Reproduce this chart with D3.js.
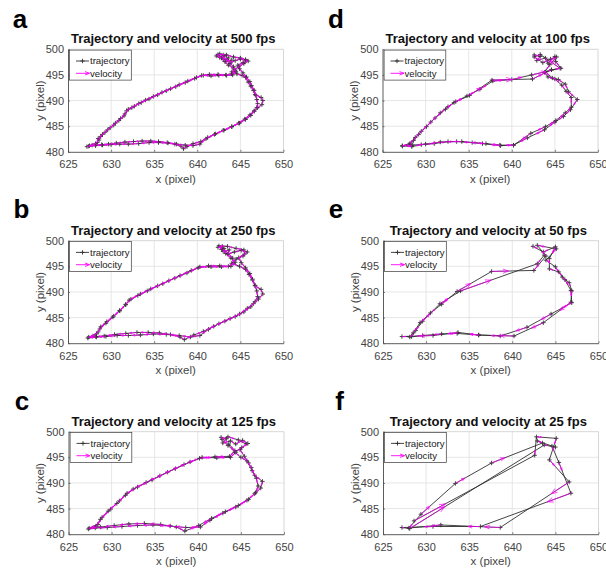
<!DOCTYPE html>
<html><head><meta charset="utf-8">
<script src="https://cdn.jsdelivr.net/npm/d3@7"></script>
<style>
body{margin:0;background:#fff}
svg{display:block}
text{font-family:"Liberation Sans",Arial,Helvetica,sans-serif}
</style>
</head><body>
<svg id="chart" width="606" height="569"></svg>
<script>
// ---------------- data ----------------
const panelLetters = ["a","b","c","d","e","f"];
const frameRates = [500,250,125,100,50,25];
const xTicks = [625,630,635,640,645,650];
const yTicks = [480,485,490,495,500];
const legendLabels = ["trajectory","velocity"];
const xLabel = "x (pixel)";
const yLabel = "y (pixel)";

const traj500 = [
[643.0,498.9],[642.4,499.0],[642.6,498.4],[643.2,498.7],[643.0,498.0],[643.6,498.3],[643.3,497.6],[644.0,497.9],[643.8,497.3],[644.4,497.8],[645.0,498.1],[645.6,497.9],[645.9,497.7],[645.4,497.2],[644.8,496.6],[644.3,496.0],[644.0,495.6],[644.6,495.2],[645.2,494.9],[645.6,494.5],
[645.9,493.6],[646.2,492.8],[646.5,492.0],[646.7,491.2],[647.4,490.6],[647.6,490.0],[647.5,489.2],[647.0,488.6],[646.6,488.0],[646.1,487.2],[645.5,486.4],[644.8,485.6],[644.0,484.9],[643.0,484.2],[642.0,483.4],[641.0,482.5],[640.3,481.5],
[639.5,481.2],[638.6,481.3],[637.6,481.5],[636.6,481.7],[635.5,481.8],[634.4,481.8],[633.2,481.6],[632.0,481.5],[631.0,481.5],[630.0,481.4],[629.0,481.3],[628.2,481.2],[627.4,481.1],[627.2,481.0],
[627.8,481.3],[628.4,481.8],[628.5,482.6],[629.0,483.4],[629.6,484.3],[630.3,485.2],[630.9,486.1],[631.5,487.0],[631.8,488.0],[632.4,488.6],[633.2,489.4],[634.0,490.1],[634.9,490.8],[635.9,491.6],[636.9,492.3],[637.9,493.1],[638.9,493.8],[639.9,494.5],[640.7,494.9],
[641.6,494.8],[642.5,494.9],[643.4,494.9],[644.1,495.0],[644.5,495.6],[644.2,496.3],[643.6,496.9],[643.2,497.6],[642.8,498.3],[642.2,498.7],[642.6,499.1],[643.4,498.9],[644.2,498.5],[645.0,498.3],[645.6,498.0],[645.3,497.4],[644.7,496.9],[644.9,496.2],[645.3,495.4],[645.7,494.6],
[646.1,493.7],[646.3,492.9],[646.6,492.0],[646.8,491.0],[646.9,490.2],[647.0,489.4],[646.9,488.6],[646.6,487.9],[646.2,487.1],[645.6,486.3],[644.9,485.6],[644.0,484.9],[643.1,484.2],[642.1,483.5],[641.2,482.8],[640.4,482.0],[639.5,481.6],[638.8,481.0],[638.4,480.6],
[638.1,481.1],[637.4,481.5],[636.5,481.8],[635.5,482.0],[634.6,482.1],[633.6,482.1],[632.6,482.0],[631.6,481.9],[630.6,481.7],[629.7,481.5],[628.9,481.4],[628.2,481.3],[627.5,481.2],
[628.2,481.6],[628.6,482.3],[628.8,483.0],[629.3,483.8],[629.9,484.7],[630.5,485.6],[631.1,486.5],[631.6,487.4],[632.0,488.3],[632.7,488.9],[633.5,489.6],[634.4,490.3],[635.4,491.1],[636.4,491.9],[637.5,492.7],[638.6,493.5],[639.7,494.3],[640.5,494.9],[641.4,495.1],[642.4,495.1],[643.3,495.0],[644.0,495.2],[644.4,495.8],[644.2,496.6],[643.8,497.3],[643.4,498.0],[642.9,498.6]
];

const traj250 = [
[642.9,498.9],[642.4,498.7],[643.1,498.5],[643.0,497.9],[643.7,498.2],[643.5,497.4],[644.3,497.8],[645.1,498.1],[645.8,497.8],[645.3,497.0],[644.5,496.4],[644.0,495.6],[644.9,495.0],[645.6,494.4],
[646.0,493.4],[646.4,492.3],[646.7,491.2],[647.4,490.5],[647.6,489.6],[647.1,488.6],[646.5,487.7],[645.8,486.8],[644.9,485.7],[643.8,484.8],[642.5,483.8],[641.3,482.7],[640.3,481.5],
[639.2,481.2],[637.9,481.5],[636.4,481.7],[634.9,481.8],[633.4,481.6],[632.0,481.5],[630.7,481.5],[629.4,481.3],[628.3,481.2],[627.3,481.0],
[627.9,481.4],[628.5,482.2],[628.8,483.2],[629.5,484.2],[630.3,485.3],[631.0,486.4],[631.7,487.5],[632.1,488.4],[633.1,489.3],[634.2,490.2],[635.4,491.2],[636.7,492.2],[638.0,493.2],[639.3,494.2],[640.3,494.9],
[641.6,494.9],[642.8,494.9],[643.9,495.0],[644.4,495.8],[643.9,496.6],[643.3,497.5],[642.8,498.3],[642.5,499.0],[643.5,498.9],[644.5,498.5],[645.4,498.2],[645.5,497.4],[644.8,496.7],[645.1,495.7],[645.6,494.7],
[646.1,493.6],[646.4,492.5],[646.7,491.3],[646.9,490.2],[647.0,489.1],[646.7,488.1],[646.2,487.1],[645.4,486.1],[644.4,485.2],[643.2,484.3],[641.9,483.3],[640.7,482.3],[639.6,481.6],[638.5,480.7],
[638.0,481.2],[636.9,481.7],[635.6,482.0],[634.3,482.1],[633.0,482.1],[631.7,481.9],[630.4,481.7],[629.2,481.4],[628.2,481.3],[627.4,481.2],
[628.3,481.8],[628.7,482.8],[629.4,483.9],[630.2,485.1],[631.0,486.3],[631.7,487.6],[632.3,488.6],[633.4,489.6],[634.6,490.6],[636.0,491.6],[637.4,492.7],[638.8,493.7],[640.1,494.7],[641.3,495.1],[642.6,495.1],[643.6,495.0],[644.2,495.6],[644.1,496.6],[643.6,497.5],[643.0,498.4]
];

const traj125 = [
[642.7,498.9],[643.3,498.6],[642.9,497.8],[643.8,498.2],[644.4,497.6],[645.2,498.3],[645.8,497.7],[645.1,496.9],[644.3,496.0],[645.0,495.0],[645.7,494.3],
[646.2,493.0],[646.6,491.5],[647.5,490.3],[647.3,489.0],[646.6,487.9],[645.7,486.6],[644.4,485.3],[642.9,484.1],[641.4,482.7],[640.3,481.4],
[638.6,481.3],[636.8,481.6],[634.8,481.8],[633.0,481.7],[631.2,481.5],[629.5,481.3],[628.1,481.2],[627.3,481.0],
[628.2,481.6],[628.7,482.9],[629.6,484.5],[630.6,486.0],[631.6,487.6],[632.5,488.8],[634.0,490.1],[635.6,491.4],[637.4,492.8],[639.1,494.1],[640.5,495.0],
[642.2,494.9],[643.8,495.0],[644.4,496.0],[643.5,497.3],[642.8,498.5],[643.5,499.0],[644.7,498.4],[645.6,497.6],[644.9,496.5],[645.4,495.2],
[645.9,493.9],[646.3,492.4],[646.8,490.9],[647.0,489.4],[646.7,488.1],[645.9,486.8],[644.7,485.6],[643.2,484.4],[641.6,483.1],[640.1,481.7],[638.5,480.6],
[637.5,481.4],[635.7,481.9],[633.8,482.1],[632.0,482.0],[630.3,481.7],[628.7,481.4],[627.4,481.2],
[628.4,481.9],[628.9,483.3],[629.9,484.9],[630.9,486.5],[631.8,488.0],[633.0,489.2],[634.7,490.6],[636.5,492.1],[638.4,493.6],[640.2,494.8],[642.0,495.1],[643.7,495.2],[644.3,496.3],[643.6,497.6]
];

const traj100 = [
[642.6,498.9],[643.3,498.6],[642.9,497.8],[643.9,498.3],[644.2,497.3],[645.0,498.6],[645.1,497.6],[645.7,496.3],[644.6,496.0],[643.9,495.6],[644.7,494.4],[645.4,494.1],
[646.2,493.2],[646.6,491.7],[647.6,490.2],[646.8,488.2],[646.0,486.9],[645.0,485.8],[643.8,484.3],[641.8,482.7],[640.2,481.3],
[638.6,481.3],[637.0,481.6],[635.4,481.8],[633.6,482.0],[631.7,481.9],[630.0,481.5],[628.5,481.3],[627.3,481.1],
[628.2,481.7],[628.8,482.8],[629.5,484.0],[630.6,485.8],[631.7,487.6],[632.6,488.8],[633.5,489.8],[634.8,490.9],[636.3,492.2],[637.8,493.8],[640.0,494.1],[642.3,495.0],[645.6,496.3],
[643.3,499.0],[642.6,498.5],[643.6,497.4],[644.5,498.1],[645.2,498.5],[644.4,497.0],[643.8,495.5],[644.2,494.6],[645.0,494.2],
[645.8,493.0],[646.3,491.8],[646.9,490.6],[646.9,488.7],[646.2,487.6],[645.1,486.1],[643.9,484.9],[642.2,483.6],[640.2,481.3],
[638.7,481.2],[636.6,481.6],[634.2,482.0],[632.6,482.0],[631.0,481.6],[629.5,481.4],[628.4,481.0],[627.3,481.2],
[628.2,481.4],[628.6,482.2],[629.2,483.4],[630.1,484.9],[631.1,486.6],[632.3,488.3],[633.3,489.6],[635.1,491.0],[637.7,494.0],[642.4,494.2],[644.6,496.0]
];

const traj50 = [
[642.4,498.9],[643.6,497.8],[645.0,498.8],[644.3,496.5],[644.3,494.5],[645.4,493.9],[646.1,492.4],[646.8,490.3],[646.9,487.9],[644.5,485.7],[641.7,483.1],[638.6,481.4],[636.1,481.6],[633.6,481.9],[631.8,481.8],[629.6,481.5],[628.1,481.2],
[628.5,482.0],[629.3,484.0],[630.5,485.9],[631.8,487.6],[633.6,490.1],[637.6,494.0],[642.5,494.2],
[643.9,497.0],[642.9,499.1],[645.1,498.4],[643.9,496.2],[645.0,494.9],[645.8,492.9],[646.6,491.8],[646.9,490.2],[646.8,488.0],[643.6,484.0],[640.2,481.4],[636.1,481.6],[633.7,482.1],[630.8,481.5],[627.2,481.3],
[628.3,481.3],[628.8,482.5],[629.6,484.3],[631.6,487.7],[634.0,490.2],[642.9,495.5],[643.7,497.2]
];

const traj25 = [
[628.6,482.6],[642.6,495.4],[642.8,499.0],[645.1,498.7],[644.3,494.5],[646.6,490.2],[638.6,481.3],[631.7,481.8],[628.0,481.2],
[629.4,483.9],[633.4,489.9],[637.6,493.9],[643.5,497.8],[642.9,498.2],[644.6,497.2],[645.4,494.0],[646.8,488.0],[636.3,481.5],[630.8,481.5],[627.2,481.3],
[628.1,481.1],[643.7,497.4],[645.0,497.0]
];

const trajectories = [traj500, traj250, traj125, traj100, traj50, traj25];

// ---------------- layout / style ----------------
const panelPos = [
  {left:68,  top:49.3,  lx:20,    ly:28},
  {left:68,  top:240.7, lx:21.5,  ly:218.3},
  {left:68.5,top:431.7, lx:22,    ly:409.5},
  {left:382.5,top:49.3, lx:336,   ly:28.3},
  {left:383, top:240.7, lx:336,   ly:218.3},
  {left:383, top:431.7, lx:339.5, ly:409.5}
];
const W = 215.5, H = 102.5;
const quiverScale = [0.7, 0.65, 0.6, 0.5, 0.4, 0.26];
const trajColor = "#303030", velColor = "#ff00ff";

const svg = d3.select("#chart");

function plusPath(px, py, r){ return `M${px-r},${py}H${px+r}M${px},${py-r}V${py+r}`; }
function arrowPath(x0,y0,x1,y1,maxHead){
  const dx=x1-x0, dy=y1-y0, len=Math.hypot(dx,dy);
  if(len<1e-6) return "";
  const ux=dx/len, uy=dy/len;
  const hl=Math.min(0.33*len, maxHead), hw=hl*0.38;
  const bx=x1-ux*hl, by=y1-uy*hl;
  return `M${x0},${y0}L${x1},${y1}M${bx-uy*hw},${by+ux*hw}L${x1},${y1}L${bx+uy*hw},${by-ux*hw}`;
}

trajectories.forEach((traj, i) => {
  const P = panelPos[i];
  const x = d3.scaleLinear().domain([xTicks[0], xTicks[xTicks.length-1]]).range([P.left, P.left+W]);
  const y = d3.scaleLinear().domain([yTicks[0], yTicks[yTicks.length-1]]).range([P.top+H, P.top]);
  const g = svg.append("g");

  // letter
  g.append("text").attr("x", P.lx).attr("y", P.ly).attr("text-anchor","middle")
    .attr("font-size", 26).attr("font-weight","bold").attr("fill","#000").text(panelLetters[i]);

  // title
  g.append("text").attr("x", P.left + W/2 - 2.5).attr("y", P.top - 6).attr("text-anchor","middle")
    .attr("font-size", 13).attr("font-weight","bold").attr("fill","#111")
    .text(`Trajectory and velocity at ${frameRates[i]} fps`);

  // grid
  g.append("g").selectAll("line").data(xTicks.slice(1,-1)).join("line")
    .attr("x1", d=>x(d)).attr("x2", d=>x(d)).attr("y1", P.top).attr("y2", P.top+H)
    .attr("stroke","#e0e0e0").attr("stroke-width",0.8);
  g.append("g").selectAll("line").data(yTicks.slice(1,-1)).join("line")
    .attr("y1", d=>y(d)).attr("y2", d=>y(d)).attr("x1", P.left).attr("x2", P.left+W)
    .attr("stroke","#e0e0e0").attr("stroke-width",0.8);
  // top/right box
  g.append("path").attr("d", `M${P.left},${P.top}H${P.left+W}V${P.top+H}`)
    .attr("fill","none").attr("stroke","#cccccc").attr("stroke-width",0.8);

  // axes
  const ax = g.append("g").attr("transform", `translate(0,${P.top+H})`)
    .call(d3.axisBottom(x).tickValues(xTicks).tickSize(-2).tickSizeOuter(0).tickPadding(8.8).tickFormat(d3.format("d")));
  const ay = g.append("g").attr("transform", `translate(${P.left},0)`)
    .call(d3.axisLeft(y).tickValues(yTicks).tickSize(-2).tickSizeOuter(0).tickPadding(4).tickFormat(d3.format("d")));
  [ax, ay].forEach(a => {
    a.select(".domain").attr("stroke","#4a4a4a").attr("stroke-width",0.9);
    a.selectAll(".tick line").attr("stroke","#4a4a4a").attr("stroke-width",0.7);
    a.selectAll(".tick text").attr("font-size", 11).attr("fill","#444")
      .style("font-family",'"Liberation Sans",Arial,sans-serif');
  });

  // axis labels
  g.append("text").attr("x", P.left + W/2).attr("y", P.top + H + 31).attr("text-anchor","middle")
    .attr("font-size", 11.5).attr("fill","#444").text(xLabel);
  g.append("text").attr("transform", `translate(${P.left-24.5},${P.top+H/2}) rotate(-90)`)
    .attr("text-anchor","middle").attr("font-size", 11.5).attr("fill","#444").text(yLabel);

  // clip
  const cid = "clip"+i;
  svg.append("clipPath").attr("id", cid).append("rect")
    .attr("x", P.left).attr("y", P.top).attr("width", W).attr("height", H);
  const plot = g.append("g").attr("clip-path", `url(#${cid})`);

  // trajectory
  const line = d3.line().x(d=>x(d[0])).y(d=>y(d[1]));
  plot.append("path").datum(traj).attr("d", line).attr("fill","none")
    .attr("stroke", trajColor).attr("stroke-width", 0.9).attr("stroke-linejoin","round");
  plot.append("path").attr("d", traj.map(d=>plusPath(x(d[0]), y(d[1]), 2.2)).join(""))
    .attr("fill","none").attr("stroke", trajColor).attr("stroke-width", 0.9);

  // velocity (quiver of successive displacement)
  const s = quiverScale[i];
  const vel = traj.slice(0,-1).map((d,k)=>[d[0], d[1], traj[k+1][0]-d[0], traj[k+1][1]-d[1]]);
  plot.append("g").selectAll("path").data(vel).join("path")
    .attr("d", d => arrowPath(x(d[0]), y(d[1]), x(d[0]+s*d[2]), y(d[1]+s*d[3]), 6))
    .attr("fill","none").attr("stroke", velColor).attr("stroke-width", 0.8).attr("stroke-opacity",0.9);

  // legend
  const lg = g.append("g").attr("transform", `translate(${P.left},${P.top})`);
  lg.append("rect").attr("x",1.6).attr("y",0.8).attr("width",61.7).attr("height",30)
    .attr("fill","#fff").attr("stroke","#3a3a3a").attr("stroke-width",0.7);
  lg.append("path").attr("d", `M8,11.7H21`).attr("stroke", trajColor).attr("stroke-width",0.9);
  lg.append("path").attr("d", plusPath(14.5, 11.7, 2.2)).attr("stroke", trajColor).attr("stroke-width",0.9);
  lg.append("path").attr("d", arrowPath(8,24,21.5,24,5)).attr("fill","none")
    .attr("stroke", velColor).attr("stroke-width",0.9);
  lg.selectAll("text.leg").data(legendLabels).join("text").attr("class","leg")
    .attr("x", 22).attr("y", (d,k)=> k===0 ? 11.7 : 24).attr("dy","0.35em")
    .attr("font-size", 9.6).attr("fill","#222").text(d=>d);
});
</script>
</body></html>
